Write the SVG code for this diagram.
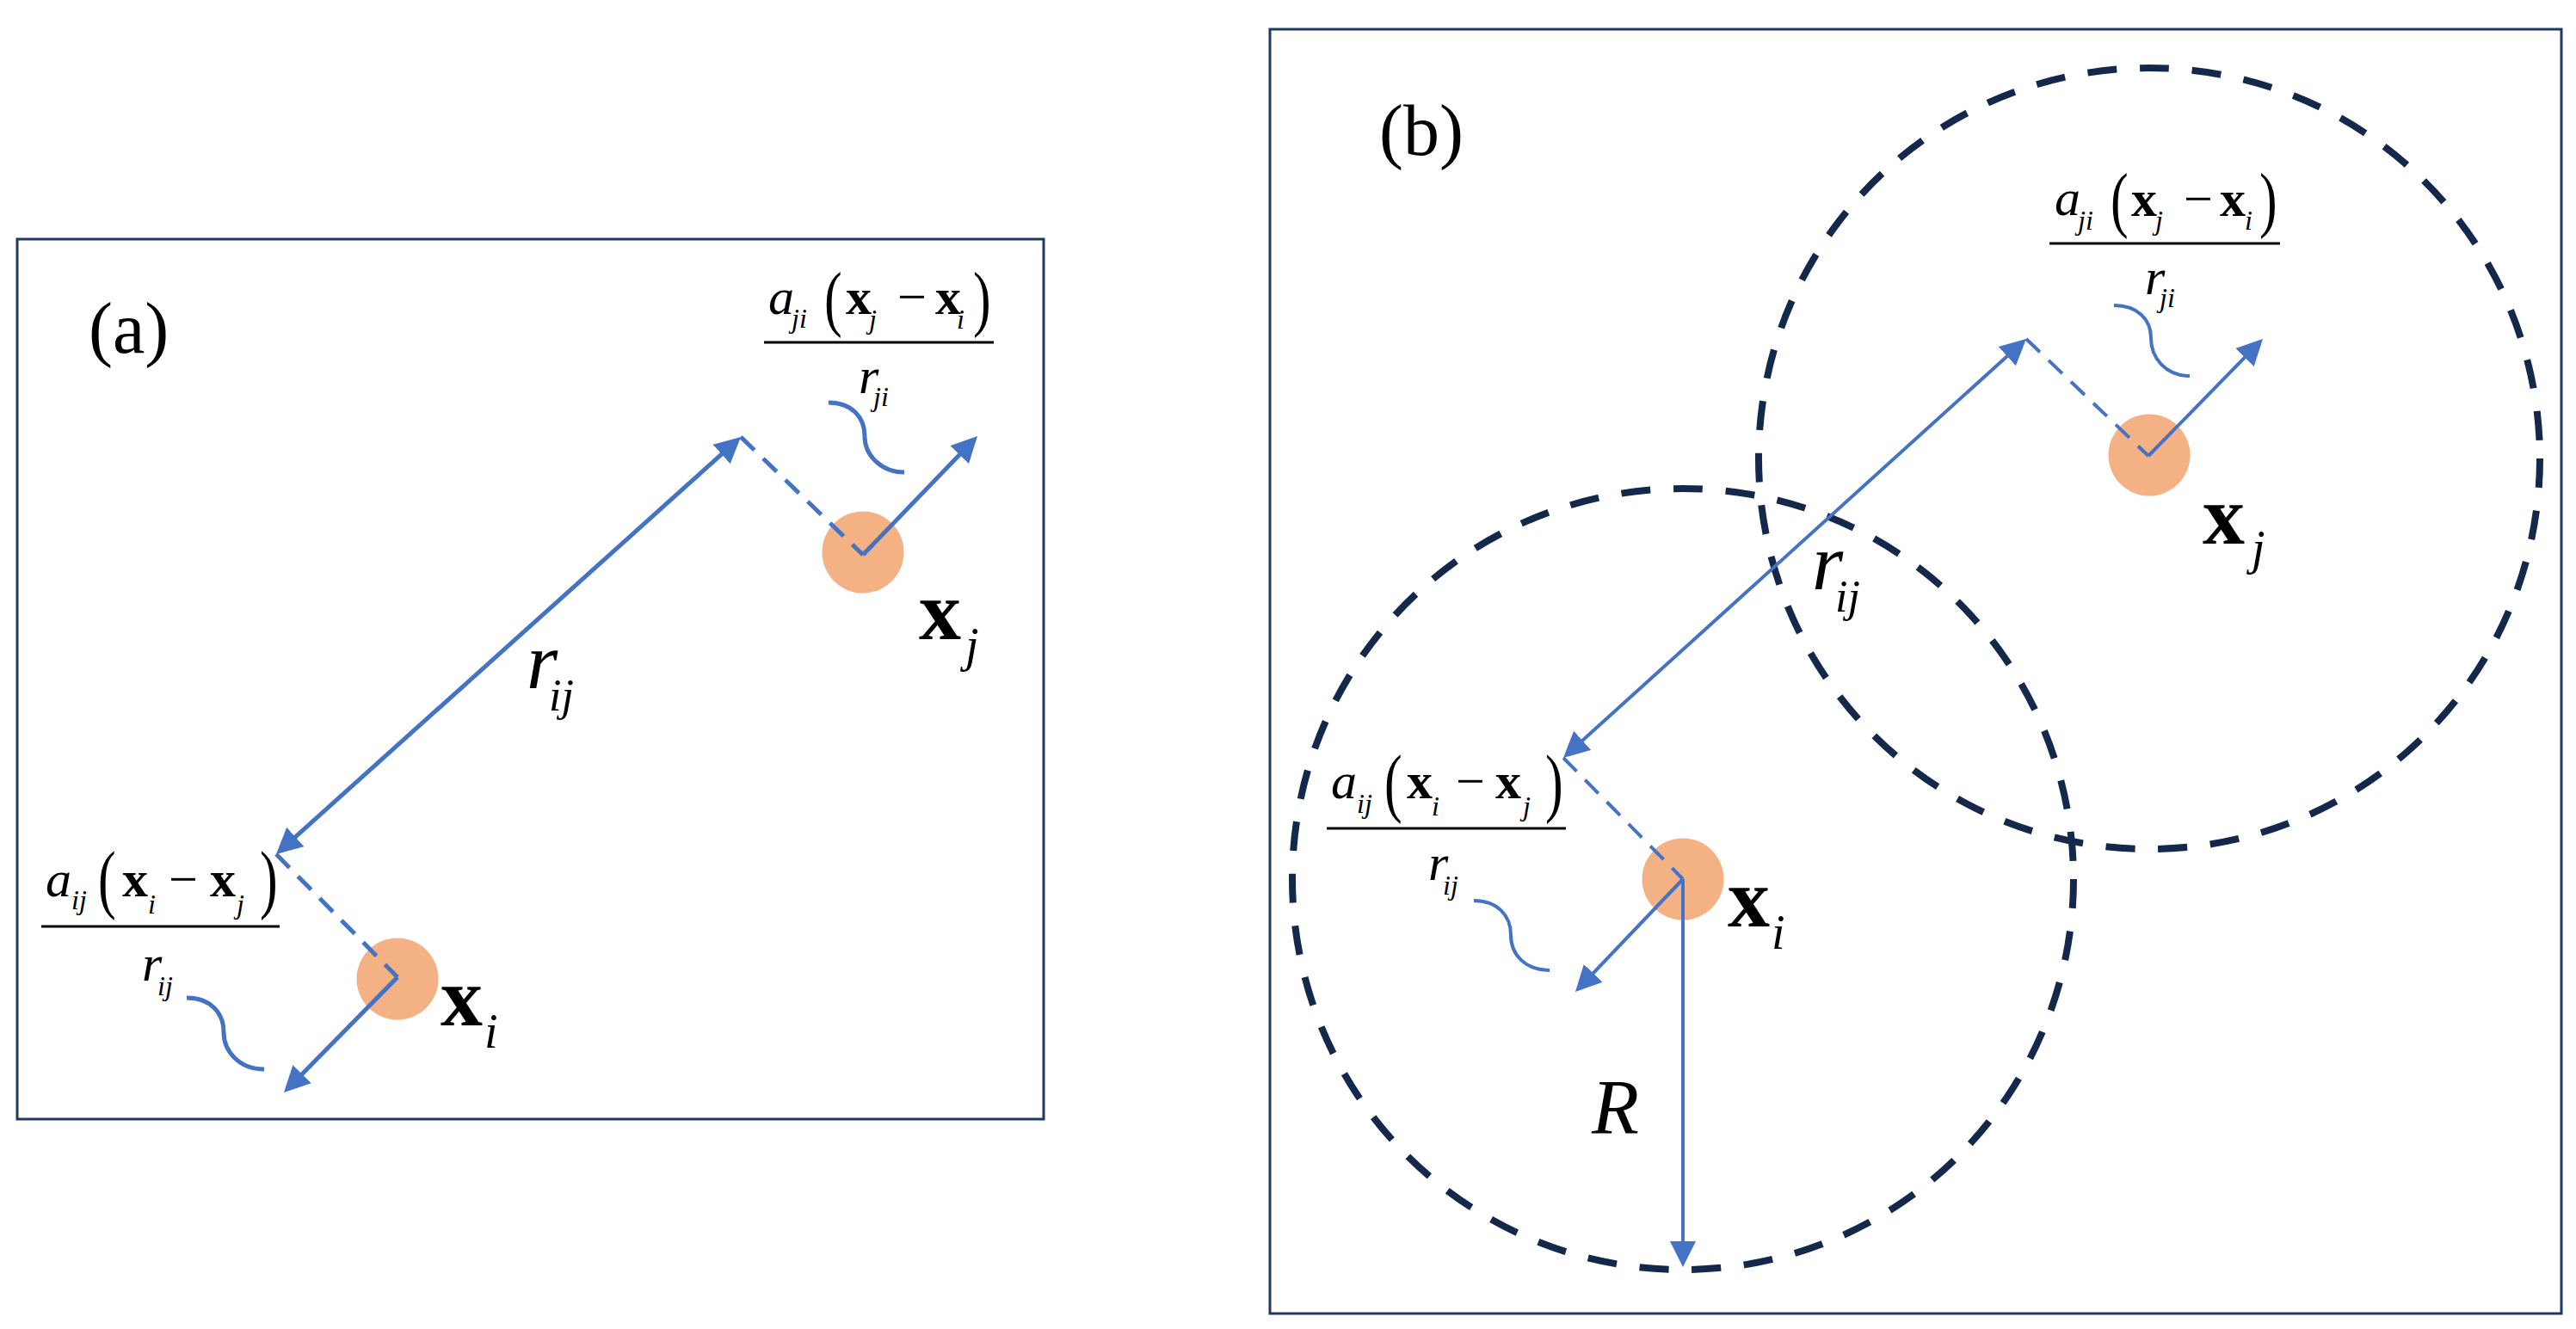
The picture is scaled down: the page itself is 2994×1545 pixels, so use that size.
<svg xmlns="http://www.w3.org/2000/svg" width="2994" height="1545" viewBox="0 0 2994 1545">
<style>
.box{fill:#fff;stroke:#203864;stroke-width:3}
.atom{fill:#F4B183}
.la{stroke:#4472C4;stroke-width:5;fill:none}
.lb{stroke:#4472C4;stroke-width:4;fill:none}
.dash{stroke-dasharray:22 14}
.ring{fill:none;stroke:#14284B;stroke-width:8;stroke-dasharray:34 26.8}
.bar{stroke:#000;stroke-width:3}
text{font-family:"Liberation Serif","Times New Roman",serif;fill:#000}
.it{font-style:italic}
.bd{font-weight:bold}
.lab{font-size:84px}
.num{font-size:60px}
.sub{font-size:32px;font-style:italic}
.par{font-size:62px}
.big{font-size:98px;font-weight:bold}
.bsub{font-size:56px;font-style:italic}
.rr{font-size:93px;font-style:italic}
.rsub{font-size:52px;font-style:italic}
</style>
<defs>
<marker id="ah" viewBox="0 0 30 30" markerWidth="30" markerHeight="30" refX="20" refY="15" orient="auto-start-reverse" markerUnits="userSpaceOnUse">
<path d="M0,0 L30,15 L0,30 z" fill="#4472C4"/>
</marker>
</defs>
<rect width="2994" height="1545" fill="#fff"/>

<g id="panel-a">
<rect class="box" x="20" y="278" width="1193" height="1023"/>
<text class="lab" x="103" y="410">(a)</text>
</g>
<g id="panel-b">
<rect class="box" x="1476" y="34" width="1501" height="1493"/>
<text class="lab" x="1603" y="180">(b)</text>
</g>

<g id="range-circles">
<circle id="range-i" class="ring" cx="1956" cy="1022" r="454"/>
<circle id="range-j" class="ring" cx="2498" cy="533" r="454"/>
</g>

<g id="atom-xi-a"><circle class="atom" cx="462" cy="1138" r="47.5"/></g>
<g id="atom-xj-a"><circle class="atom" cx="1003" cy="642" r="47.5"/></g>
<g id="atom-xi-b"><circle class="atom" cx="1956" cy="1022" r="47.5"/></g>
<g id="atom-xj-b"><circle class="atom" cx="2498" cy="529" r="47.5"/></g>

<g id="connectors">
<line class="la" x1="328.4" y1="986.3" x2="853.6" y2="514.7" marker-start="url(#ah)" marker-end="url(#ah)"/>
<line class="la dash" x1="861" y1="508" x2="1003" y2="645"/>
<line class="la dash" x1="321" y1="993" x2="462" y2="1136"/>
<line class="la" x1="1003" y1="645" x2="1129.1" y2="514.2" marker-end="url(#ah)"/>
<line class="la" x1="462" y1="1136" x2="337" y2="1262.9" marker-end="url(#ah)"/>
<path class="la" d="M217,1160 C245,1160 260,1178 260,1200 C260,1222 278,1243 307,1243"/>
<path class="la" d="M963,468 C990,468 1005,485 1005,507 C1005,530 1025,549 1051,549"/>

<line class="lb" x1="1824.4" y1="874.3" x2="2347.6" y2="400.7" marker-start="url(#ah)" marker-end="url(#ah)"/>
<line class="lb dash" x1="2355" y1="394" x2="2497" y2="530"/>
<line class="lb dash" x1="1817" y1="881" x2="1956" y2="1022"/>
<line class="lb" x1="2497" y1="530" x2="2623" y2="401.2" marker-end="url(#ah)"/>
<line class="lb" x1="1956" y1="1022" x2="1837.9" y2="1145.8" marker-end="url(#ah)"/>
<line class="lb" x1="1956" y1="1022" x2="1956" y2="1463" marker-end="url(#ah)"/>
<path class="lb" d="M1713,1047 C1740,1047 1756,1064 1756,1087 C1756,1110 1773,1128 1801,1128"/>
<path class="lb" d="M2457,355 C2484,355 2500,371 2500,393 C2500,416 2517,437 2545,437"/>
</g>

<g id="label-a-rij">
<text class="rr" x="612" y="800">r</text>
<text class="rsub" x="638" y="826">ij</text>
</g>
<g id="label-a-xi">
<text class="big" x="512" y="1192">x</text>
<text class="bsub" x="563" y="1218">i</text>
</g>
<g id="label-a-xj">
<text class="big" x="1068" y="743">x</text>
<text class="bsub" x="1122" y="769">j</text>
</g>
<g id="frac-a-ij">
<text class="num it" x="53" y="1042">a</text>
<text class="sub" x="83" y="1057">ij</text>
<text class="par" transform="translate(114,1051) scale(1,1.45)">(</text>
<text class="num bd" x="142" y="1042">x</text>
<text class="sub" x="172" y="1062">i</text>
<text class="num" x="196" y="1042">−</text>
<text class="num bd" x="244" y="1042">x</text>
<text class="sub" x="275" y="1062">j</text>
<text class="par" transform="translate(302,1051) scale(1,1.45)">)</text>
<line class="bar" x1="48" y1="1077" x2="325" y2="1077"/>
<text class="num it" x="165" y="1140">r</text>
<text class="sub" x="183" y="1157">ij</text>
</g>
<g id="frac-a-ji">
<text class="num it" x="893" y="365">a</text>
<text class="sub" x="920" y="381">ji</text>
<text class="par" transform="translate(958,375) scale(1,1.38)">(</text>
<text class="num bd" x="983" y="365">x</text>
<text class="sub" x="1010" y="382">j</text>
<text class="num" x="1043" y="365">−</text>
<text class="num bd" x="1087" y="365">x</text>
<text class="sub" x="1112" y="382">i</text>
<text class="par" transform="translate(1131,375) scale(1,1.38)">)</text>
<line class="bar" x1="888" y1="398" x2="1155" y2="398"/>
<text class="num it" x="998" y="457">r</text>
<text class="sub" x="1015" y="472">ji</text>
</g>

<g id="label-b-rij">
<text class="rr" x="2106" y="685">r</text>
<text class="rsub" x="2133" y="711">ij</text>
</g>
<g id="label-b-xi">
<text class="big" x="2008" y="1077">x</text>
<text class="bsub" x="2059" y="1103">i</text>
</g>
<g id="label-b-xj">
<text class="big" x="2560" y="632">x</text>
<text class="bsub" x="2617" y="656">j</text>
</g>
<g id="label-b-R">
<text class="it" style="font-size:90px" x="1850" y="1318">R</text>
</g>
<g id="frac-b-ij">
<text class="num it" x="1547" y="928">a</text>
<text class="sub" x="1577" y="945">ij</text>
<text class="par" transform="translate(1609,939) scale(1,1.45)">(</text>
<text class="num bd" x="1635" y="928">x</text>
<text class="sub" x="1664" y="948">i</text>
<text class="num" x="1692" y="928">−</text>
<text class="num bd" x="1738" y="928">x</text>
<text class="sub" x="1770" y="948">j</text>
<text class="par" transform="translate(1796,939) scale(1,1.45)">)</text>
<line class="bar" x1="1542" y1="963" x2="1820" y2="963"/>
<text class="num it" x="1660" y="1023">r</text>
<text class="sub" x="1677" y="1040">ij</text>
</g>
<g id="frac-b-ji">
<text class="num it" x="2388" y="250">a</text>
<text class="sub" x="2415" y="267">ji</text>
<text class="par" transform="translate(2453,260) scale(1,1.38)">(</text>
<text class="num bd" x="2477" y="251">x</text>
<text class="sub" x="2505" y="267">j</text>
<text class="num" x="2538" y="251">−</text>
<text class="num bd" x="2580" y="251">x</text>
<text class="sub" x="2609" y="267">i</text>
<text class="par" transform="translate(2626,260) scale(1,1.38)">)</text>
<line class="bar" x1="2382" y1="283" x2="2650" y2="283"/>
<text class="num it" x="2493" y="342">r</text>
<text class="sub" x="2510" y="357">ji</text>
</g>
</svg>
